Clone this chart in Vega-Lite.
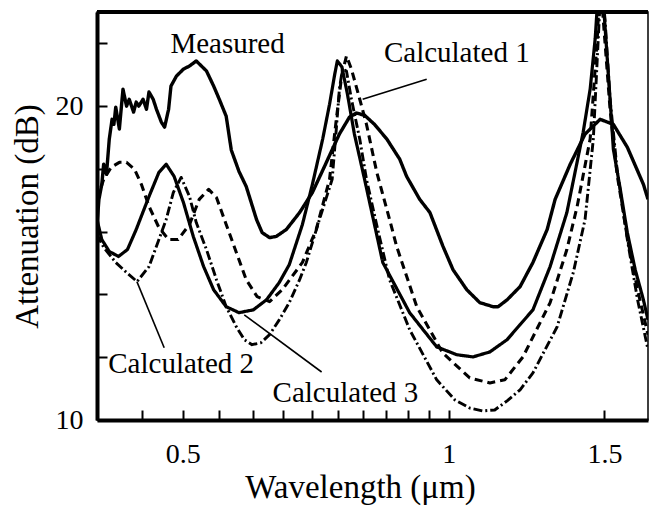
{
  "$schema": "https://vega.github.io/schema/vega-lite/v6.json",
  "autosize": {"type": "none"},
  "padding": {"left": 97, "top": 12, "right": 1, "bottom": 86},
  "width": 551,
  "height": 408,
  "background": "white",
  "config": {
    "view": {"stroke": "black", "strokeWidth": 1.5},
    "font": "Liberation Serif",
    "axis": {
      "domainColor": "black", "domainWidth": 4,
      "tickColor": "black", "tickWidth": 2, "tickSize": -10,
      "labelFont": "Liberation Serif", "labelFontSize": 28, "labelColor": "black",
      "titleFont": "Liberation Serif", "titleFontSize": 33, "titleFontWeight": "normal", "titleColor": "black",
      "grid": false
    }
  },
  "datasets": {
    "curves": [
      {"series":"Measured","wavelength":0.400,"attenuation":16.23},
      {"series":"Measured","wavelength":0.402,"attenuation":17.03},
      {"series":"Measured","wavelength":0.405,"attenuation":17.5},
      {"series":"Measured","wavelength":0.407,"attenuation":18.15},
      {"series":"Measured","wavelength":0.410,"attenuation":17.83},
      {"series":"Measured","wavelength":0.413,"attenuation":18.95},
      {"series":"Measured","wavelength":0.416,"attenuation":19.58},
      {"series":"Measured","wavelength":0.418,"attenuation":19.42},
      {"series":"Measured","wavelength":0.420,"attenuation":19.97},
      {"series":"Measured","wavelength":0.424,"attenuation":19.27},
      {"series":"Measured","wavelength":0.428,"attenuation":20.54},
      {"series":"Measured","wavelength":0.432,"attenuation":20.0},
      {"series":"Measured","wavelength":0.435,"attenuation":20.22},
      {"series":"Measured","wavelength":0.440,"attenuation":19.81},
      {"series":"Measured","wavelength":0.443,"attenuation":20.13},
      {"series":"Measured","wavelength":0.446,"attenuation":20.0},
      {"series":"Measured","wavelength":0.451,"attenuation":20.22},
      {"series":"Measured","wavelength":0.455,"attenuation":19.9},
      {"series":"Measured","wavelength":0.458,"attenuation":20.45},
      {"series":"Measured","wavelength":0.463,"attenuation":20.22},
      {"series":"Measured","wavelength":0.467,"attenuation":19.9},
      {"series":"Measured","wavelength":0.473,"attenuation":19.49},
      {"series":"Measured","wavelength":0.477,"attenuation":19.33},
      {"series":"Measured","wavelength":0.482,"attenuation":19.9},
      {"series":"Measured","wavelength":0.485,"attenuation":20.64},
      {"series":"Measured","wavelength":0.492,"attenuation":20.96},
      {"series":"Measured","wavelength":0.501,"attenuation":21.18},
      {"series":"Measured","wavelength":0.509,"attenuation":21.28},
      {"series":"Measured","wavelength":0.518,"attenuation":21.44},
      {"series":"Measured","wavelength":0.525,"attenuation":21.28},
      {"series":"Measured","wavelength":0.532,"attenuation":21.12},
      {"series":"Measured","wavelength":0.542,"attenuation":20.64},
      {"series":"Measured","wavelength":0.550,"attenuation":20.22},
      {"series":"Measured","wavelength":0.560,"attenuation":19.68},
      {"series":"Measured","wavelength":0.5675,"attenuation":18.6},
      {"series":"Measured","wavelength":0.579,"attenuation":17.92},
      {"series":"Measured","wavelength":0.590,"attenuation":17.44},
      {"series":"Measured","wavelength":0.606,"attenuation":16.39},
      {"series":"Measured","wavelength":0.615,"attenuation":15.97},
      {"series":"Measured","wavelength":0.627,"attenuation":15.81},
      {"series":"Measured","wavelength":0.638,"attenuation":15.85},
      {"series":"Measured","wavelength":0.655,"attenuation":16.07},
      {"series":"Measured","wavelength":0.678,"attenuation":16.61},
      {"series":"Measured","wavelength":0.701,"attenuation":17.25},
      {"series":"Measured","wavelength":0.727,"attenuation":18.21},
      {"series":"Measured","wavelength":0.752,"attenuation":19.11},
      {"series":"Measured","wavelength":0.772,"attenuation":19.65},
      {"series":"Measured","wavelength":0.786,"attenuation":19.78},
      {"series":"Measured","wavelength":0.803,"attenuation":19.71},
      {"series":"Measured","wavelength":0.824,"attenuation":19.42},
      {"series":"Measured","wavelength":0.851,"attenuation":18.95},
      {"series":"Measured","wavelength":0.880,"attenuation":18.31},
      {"series":"Measured","wavelength":0.896,"attenuation":17.76},
      {"series":"Measured","wavelength":0.927,"attenuation":17.03},
      {"series":"Measured","wavelength":0.952,"attenuation":16.61},
      {"series":"Measured","wavelength":0.985,"attenuation":15.53},
      {"series":"Measured","wavelength":1.011,"attenuation":14.79},
      {"series":"Measured","wavelength":1.048,"attenuation":14.15},
      {"series":"Measured","wavelength":1.084,"attenuation":13.74},
      {"series":"Measured","wavelength":1.122,"attenuation":13.61},
      {"series":"Measured","wavelength":1.137,"attenuation":13.61},
      {"series":"Measured","wavelength":1.164,"attenuation":13.83},
      {"series":"Measured","wavelength":1.204,"attenuation":14.25},
      {"series":"Measured","wavelength":1.245,"attenuation":15.02},
      {"series":"Measured","wavelength":1.292,"attenuation":16.07},
      {"series":"Measured","wavelength":1.319,"attenuation":17.03},
      {"series":"Measured","wavelength":1.372,"attenuation":18.15},
      {"series":"Measured","wavelength":1.426,"attenuation":19.11},
      {"series":"Measured","wavelength":1.483,"attenuation":19.58},
      {"series":"Measured","wavelength":1.535,"attenuation":19.42},
      {"series":"Measured","wavelength":1.592,"attenuation":18.69},
      {"series":"Measured","wavelength":1.660,"attenuation":17.51},
      {"series":"Measured","wavelength":1.680,"attenuation":17.03},

      {"series":"Calculated 3","wavelength":0.400,"attenuation":16.39},
      {"series":"Calculated 3","wavelength":0.405,"attenuation":15.75},
      {"series":"Calculated 3","wavelength":0.413,"attenuation":15.37},
      {"series":"Calculated 3","wavelength":0.423,"attenuation":15.21},
      {"series":"Calculated 3","wavelength":0.433,"attenuation":15.43},
      {"series":"Calculated 3","wavelength":0.443,"attenuation":16.07},
      {"series":"Calculated 3","wavelength":0.458,"attenuation":17.12},
      {"series":"Calculated 3","wavelength":0.470,"attenuation":17.89},
      {"series":"Calculated 3","wavelength":0.479,"attenuation":18.15},
      {"series":"Calculated 3","wavelength":0.489,"attenuation":17.76},
      {"series":"Calculated 3","wavelength":0.501,"attenuation":16.93},
      {"series":"Calculated 3","wavelength":0.514,"attenuation":15.85},
      {"series":"Calculated 3","wavelength":0.528,"attenuation":14.89},
      {"series":"Calculated 3","wavelength":0.542,"attenuation":14.15},
      {"series":"Calculated 3","wavelength":0.560,"attenuation":13.61},
      {"series":"Calculated 3","wavelength":0.579,"attenuation":13.42},
      {"series":"Calculated 3","wavelength":0.601,"attenuation":13.51},
      {"series":"Calculated 3","wavelength":0.622,"attenuation":13.83},
      {"series":"Calculated 3","wavelength":0.643,"attenuation":14.38},
      {"series":"Calculated 3","wavelength":0.660,"attenuation":14.95},
      {"series":"Calculated 3","wavelength":0.683,"attenuation":16.23},
      {"series":"Calculated 3","wavelength":0.701,"attenuation":17.51},
      {"series":"Calculated 3","wavelength":0.720,"attenuation":18.95},
      {"series":"Calculated 3","wavelength":0.733,"attenuation":20.06},
      {"series":"Calculated 3","wavelength":0.743,"attenuation":21.02},
      {"series":"Calculated 3","wavelength":0.748,"attenuation":21.44},
      {"series":"Calculated 3","wavelength":0.757,"attenuation":21.25},
      {"series":"Calculated 3","wavelength":0.768,"attenuation":20.38},
      {"series":"Calculated 3","wavelength":0.782,"attenuation":19.11},
      {"series":"Calculated 3","wavelength":0.803,"attenuation":17.67},
      {"series":"Calculated 3","wavelength":0.842,"attenuation":15.02},
      {"series":"Calculated 3","wavelength":0.903,"attenuation":13.42},
      {"series":"Calculated 3","wavelength":0.969,"attenuation":12.33},
      {"series":"Calculated 3","wavelength":1.021,"attenuation":12.08},
      {"series":"Calculated 3","wavelength":1.065,"attenuation":12.01},
      {"series":"Calculated 3","wavelength":1.113,"attenuation":12.17},
      {"series":"Calculated 3","wavelength":1.164,"attenuation":12.56},
      {"series":"Calculated 3","wavelength":1.204,"attenuation":13.04},
      {"series":"Calculated 3","wavelength":1.245,"attenuation":13.51},
      {"series":"Calculated 3","wavelength":1.302,"attenuation":14.89},
      {"series":"Calculated 3","wavelength":1.360,"attenuation":16.61},
      {"series":"Calculated 3","wavelength":1.419,"attenuation":19.17},
      {"series":"Calculated 3","wavelength":1.445,"attenuation":20.54},
      {"series":"Calculated 3","wavelength":1.464,"attenuation":22.14},
      {"series":"Calculated 3","wavelength":1.479,"attenuation":24.06},
      {"series":"Calculated 3","wavelength":1.500,"attenuation":22.78},
      {"series":"Calculated 3","wavelength":1.522,"attenuation":20.22},
      {"series":"Calculated 3","wavelength":1.535,"attenuation":18.63},
      {"series":"Calculated 3","wavelength":1.563,"attenuation":17.35},
      {"series":"Calculated 3","wavelength":1.592,"attenuation":15.97},
      {"series":"Calculated 3","wavelength":1.625,"attenuation":14.79},
      {"series":"Calculated 3","wavelength":1.660,"attenuation":13.83},
      {"series":"Calculated 3","wavelength":1.680,"attenuation":13.19},

      {"series":"Calculated 1","wavelength":0.400,"attenuation":17.03},
      {"series":"Calculated 1","wavelength":0.407,"attenuation":17.67},
      {"series":"Calculated 1","wavelength":0.415,"attenuation":18.05},
      {"series":"Calculated 1","wavelength":0.424,"attenuation":18.21},
      {"series":"Calculated 1","wavelength":0.432,"attenuation":18.21},
      {"series":"Calculated 1","wavelength":0.441,"attenuation":17.99},
      {"series":"Calculated 1","wavelength":0.449,"attenuation":17.51},
      {"series":"Calculated 1","wavelength":0.458,"attenuation":16.81},
      {"series":"Calculated 1","wavelength":0.470,"attenuation":16.13},
      {"series":"Calculated 1","wavelength":0.482,"attenuation":15.75},
      {"series":"Calculated 1","wavelength":0.494,"attenuation":15.75},
      {"series":"Calculated 1","wavelength":0.509,"attenuation":16.23},
      {"series":"Calculated 1","wavelength":0.522,"attenuation":17.03},
      {"series":"Calculated 1","wavelength":0.535,"attenuation":17.35},
      {"series":"Calculated 1","wavelength":0.546,"attenuation":17.09},
      {"series":"Calculated 1","wavelength":0.560,"attenuation":16.23},
      {"series":"Calculated 1","wavelength":0.575,"attenuation":15.34},
      {"series":"Calculated 1","wavelength":0.590,"attenuation":14.47},
      {"series":"Calculated 1","wavelength":0.607,"attenuation":13.93},
      {"series":"Calculated 1","wavelength":0.627,"attenuation":13.77},
      {"series":"Calculated 1","wavelength":0.648,"attenuation":14.15},
      {"series":"Calculated 1","wavelength":0.683,"attenuation":15.02},
      {"series":"Calculated 1","wavelength":0.708,"attenuation":16.07},
      {"series":"Calculated 1","wavelength":0.733,"attenuation":17.67},
      {"series":"Calculated 1","wavelength":0.746,"attenuation":19.58},
      {"series":"Calculated 1","wavelength":0.757,"attenuation":21.02},
      {"series":"Calculated 1","wavelength":0.766,"attenuation":21.6},
      {"series":"Calculated 1","wavelength":0.776,"attenuation":21.18},
      {"series":"Calculated 1","wavelength":0.793,"attenuation":20.22},
      {"series":"Calculated 1","wavelength":0.807,"attenuation":19.42},
      {"series":"Calculated 1","wavelength":0.829,"attenuation":17.89},
      {"series":"Calculated 1","wavelength":0.857,"attenuation":16.39},
      {"series":"Calculated 1","wavelength":0.873,"attenuation":15.53},
      {"series":"Calculated 1","wavelength":0.920,"attenuation":13.61},
      {"series":"Calculated 1","wavelength":0.984,"attenuation":12.14},
      {"series":"Calculated 1","wavelength":1.056,"attenuation":11.34},
      {"series":"Calculated 1","wavelength":1.113,"attenuation":11.18},
      {"series":"Calculated 1","wavelength":1.157,"attenuation":11.28},
      {"series":"Calculated 1","wavelength":1.213,"attenuation":12.01},
      {"series":"Calculated 1","wavelength":1.302,"attenuation":13.74},
      {"series":"Calculated 1","wavelength":1.360,"attenuation":15.43},
      {"series":"Calculated 1","wavelength":1.397,"attenuation":16.81},
      {"series":"Calculated 1","wavelength":1.445,"attenuation":18.95},
      {"series":"Calculated 1","wavelength":1.472,"attenuation":22.14},
      {"series":"Calculated 1","wavelength":1.483,"attenuation":24.06},
      {"series":"Calculated 1","wavelength":1.495,"attenuation":22.78},
      {"series":"Calculated 1","wavelength":1.522,"attenuation":19.90},
      {"series":"Calculated 1","wavelength":1.550,"attenuation":17.83},
      {"series":"Calculated 1","wavelength":1.592,"attenuation":15.81},
      {"series":"Calculated 1","wavelength":1.635,"attenuation":14.15},
      {"series":"Calculated 1","wavelength":1.680,"attenuation":12.72},

      {"series":"Calculated 2","wavelength":0.400,"attenuation":15.91},
      {"series":"Calculated 2","wavelength":0.407,"attenuation":15.5},
      {"series":"Calculated 2","wavelength":0.420,"attenuation":15.02},
      {"series":"Calculated 2","wavelength":0.432,"attenuation":14.70},
      {"series":"Calculated 2","wavelength":0.444,"attenuation":14.41},
      {"series":"Calculated 2","wavelength":0.458,"attenuation":14.89},
      {"series":"Calculated 2","wavelength":0.470,"attenuation":15.75},
      {"series":"Calculated 2","wavelength":0.479,"attenuation":16.39},
      {"series":"Calculated 2","wavelength":0.488,"attenuation":17.25},
      {"series":"Calculated 2","wavelength":0.498,"attenuation":17.73},
      {"series":"Calculated 2","wavelength":0.509,"attenuation":17.12},
      {"series":"Calculated 2","wavelength":0.518,"attenuation":16.29},
      {"series":"Calculated 2","wavelength":0.532,"attenuation":15.43},
      {"series":"Calculated 2","wavelength":0.546,"attenuation":14.47},
      {"series":"Calculated 2","wavelength":0.560,"attenuation":13.61},
      {"series":"Calculated 2","wavelength":0.575,"attenuation":12.97},
      {"series":"Calculated 2","wavelength":0.587,"attenuation":12.56},
      {"series":"Calculated 2","wavelength":0.599,"attenuation":12.40},
      {"series":"Calculated 2","wavelength":0.613,"attenuation":12.46},
      {"series":"Calculated 2","wavelength":0.627,"attenuation":12.72},
      {"series":"Calculated 2","wavelength":0.643,"attenuation":13.19},
      {"series":"Calculated 2","wavelength":0.660,"attenuation":13.74},
      {"series":"Calculated 2","wavelength":0.678,"attenuation":14.47},
      {"series":"Calculated 2","wavelength":0.690,"attenuation":15.02},
      {"series":"Calculated 2","wavelength":0.714,"attenuation":16.39},
      {"series":"Calculated 2","wavelength":0.738,"attenuation":17.67},
      {"series":"Calculated 2","wavelength":0.746,"attenuation":19.27},
      {"series":"Calculated 2","wavelength":0.752,"attenuation":20.54},
      {"series":"Calculated 2","wavelength":0.758,"attenuation":21.18},
      {"series":"Calculated 2","wavelength":0.766,"attenuation":21.12},
      {"series":"Calculated 2","wavelength":0.776,"attenuation":20.22},
      {"series":"Calculated 2","wavelength":0.793,"attenuation":18.95},
      {"series":"Calculated 2","wavelength":0.807,"attenuation":17.67},
      {"series":"Calculated 2","wavelength":0.831,"attenuation":16.07},
      {"series":"Calculated 2","wavelength":0.857,"attenuation":14.47},
      {"series":"Calculated 2","wavelength":0.903,"attenuation":12.88},
      {"series":"Calculated 2","wavelength":0.969,"attenuation":11.28},
      {"series":"Calculated 2","wavelength":1.016,"attenuation":10.64},
      {"series":"Calculated 2","wavelength":1.056,"attenuation":10.38},
      {"series":"Calculated 2","wavelength":1.092,"attenuation":10.29},
      {"series":"Calculated 2","wavelength":1.127,"attenuation":10.32},
      {"series":"Calculated 2","wavelength":1.164,"attenuation":10.61},
      {"series":"Calculated 2","wavelength":1.204,"attenuation":10.96},
      {"series":"Calculated 2","wavelength":1.245,"attenuation":11.50},
      {"series":"Calculated 2","wavelength":1.285,"attenuation":12.24},
      {"series":"Calculated 2","wavelength":1.326,"attenuation":12.97},
      {"series":"Calculated 2","wavelength":1.383,"attenuation":14.70},
      {"series":"Calculated 2","wavelength":1.426,"attenuation":16.39},
      {"series":"Calculated 2","wavelength":1.457,"attenuation":18.95},
      {"series":"Calculated 2","wavelength":1.472,"attenuation":21.5},
      {"series":"Calculated 2","wavelength":1.487,"attenuation":24.0},
      {"series":"Calculated 2","wavelength":1.502,"attenuation":22.78},
      {"series":"Calculated 2","wavelength":1.522,"attenuation":20.22},
      {"series":"Calculated 2","wavelength":1.550,"attenuation":17.99},
      {"series":"Calculated 2","wavelength":1.592,"attenuation":15.75},
      {"series":"Calculated 2","wavelength":1.635,"attenuation":13.83},
      {"series":"Calculated 2","wavelength":1.680,"attenuation":12.24}
    ],
    "labels": [
      {"text":"Measured","wavelength":0.562,"attenuation":21.69},
      {"text":"Calculated 1","wavelength":1.021,"attenuation":21.41},
      {"text":"Calculated 2","wavelength":0.498,"attenuation":11.50},
      {"text":"Calculated 3","wavelength":0.764,"attenuation":10.58}
    ],
    "pointers": [
      {"wavelength":0.944,"attenuation":20.86,"wavelength2":0.799,"attenuation2":20.22},
      {"wavelength":0.4438,"attenuation":14.41,"wavelength2":0.4765,"attenuation2":12.30},
      {"wavelength":0.587,"attenuation":13.35,"wavelength2":0.718,"attenuation2":11.53}
    ]
  },
  "layer": [
    {
      "data": {"name": "curves"},
      "mark": {"type": "line", "clip": true, "color": "black", "strokeJoin": "round"},
      "encoding": {
        "x": {
          "field": "wavelength", "type": "quantitative",
          "scale": {"type": "log", "domain": [0.4, 1.68], "nice": false},
          "axis": {
            "title": "Wavelength (μm)",
            "values": [0.45,0.5,0.55,0.6,0.65,0.7,0.75,0.8,0.85,0.9,0.95,1,1.5],
            "format": "~g",
            "labelExpr": "(datum.value == 0.5 || datum.value == 1 || datum.value == 1.5) ? datum.label : ''",
            "labelPadding": 30,
            "labelBaseline": "top",
            "titleBaseline": "alphabetic",
            "titleX": 263,
            "titleY": 77
          }
        },
        "y": {
          "field": "attenuation", "type": "quantitative",
          "scale": {"domain": [10, 23], "nice": false, "zero": false},
          "axis": {
            "title": "Attenuation (dB)",
            "values": [10,11,12,13,14,15,16,17,18,19,20,21,22,23],
            "labelExpr": "datum.value % 5 == 0 ? datum.label : ''",
            "labelPadding": 24,
            "titleBaseline": "alphabetic",
            "titleAngle": -90,
            "titleX": -60,
            "titleY": 204
          }
        },
        "detail": {"field": "series"},
        "strokeDash": {
          "field": "series", "type": "nominal",
          "scale": {"domain": ["Measured","Calculated 3","Calculated 1","Calculated 2"], "range": [[1,0],[1,0],[8,5],[9,3,2,3]]},
          "legend": null
        },
        "strokeWidth": {
          "field": "series", "type": "nominal",
          "scale": {"domain": ["Measured","Calculated 3","Calculated 1","Calculated 2"], "range": [3.4,2.9,2.9,2.6]},
          "legend": null
        }
      }
    },
    {
      "data": {"name": "pointers"},
      "mark": {"type": "rule", "color": "black", "strokeWidth": 1.6},
      "encoding": {
        "x": {"field": "wavelength", "type": "quantitative"},
        "y": {"field": "attenuation", "type": "quantitative"},
        "x2": {"field": "wavelength2"},
        "y2": {"field": "attenuation2"}
      }
    },
    {
      "data": {"name": "labels"},
      "mark": {"type": "text", "font": "Liberation Serif", "fontSize": 29, "color": "black", "align": "center", "baseline": "alphabetic"},
      "encoding": {
        "x": {"field": "wavelength", "type": "quantitative"},
        "y": {"field": "attenuation", "type": "quantitative"},
        "text": {"field": "text"}
      }
    },
    {
      "data": {"values": [{"top": 23}]},
      "mark": {"type": "rule", "color": "black", "strokeWidth": 4},
      "encoding": {
        "y": {"field": "top", "type": "quantitative"}
      }
    }
  ]
}
